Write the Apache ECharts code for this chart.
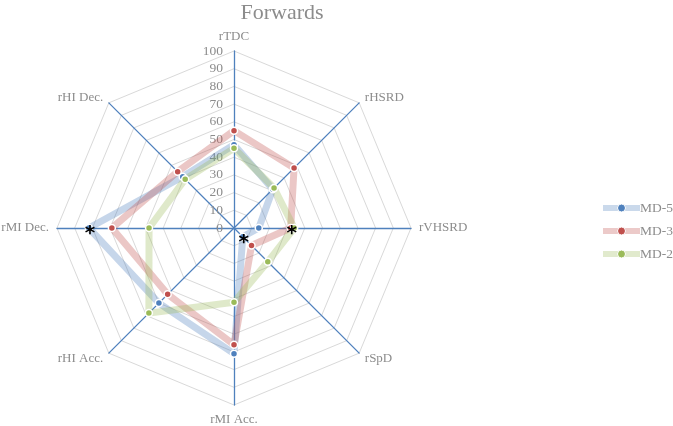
<!DOCTYPE html>
<html>
<head>
<meta charset="utf-8">
<script src="https://cdn.jsdelivr.net/npm/echarts@6/dist/echarts.min.js"></script>
<style>
html,body{margin:0;padding:0;background:#fff;}
#chart{width:673px;height:426px;}
</style>
</head>
<body>
<div id="chart"></div>
<script>
// Categories listed clockwise from the top, as in the picture
var categories = ['rTDC', 'rHSRD', 'rVHSRD', 'rSpD', 'rMI Acc.', 'rHI Acc.', 'rMI Dec.', 'rHI Dec.'];
var seriesNames = ['MD-5', 'MD-3', 'MD-2'];
var md5 = [47, 31, 14, 7, 71, 60, 82, 41];
var md3 = [55, 48, 32, 14, 66, 53, 69, 45];
var md2 = [45, 32, 34, 27, 42, 68, 48, 39];
var tickLabels = [0, 10, 20, 30, 40, 50, 60, 70, 80, 90, 100];
// significance stars: [series index, category]
var stars = [[0, 'rMI Dec.'], [0, 'rSpD'], [1, 'rVHSRD']];

var colors = ['#4F81BD', '#C0504D', '#9BBB59'];
var FONT = 'Liberation Serif';
var CX = 234, CY = 228, R = 177;

// ECharts places radar indicators counter-clockwise; reorder clockwise data
function ccw(arr) { return [arr[0]].concat(arr.slice(1).reverse()); }
var indCats = ccw(categories);
var allData = [md5, md3, md2];

var indicator = indCats.map(function (c, i) {
  var o = { name: c, min: tickLabels[0], max: tickLabels[tickLabels.length - 1] };
  if (i === 0) {
    o.axisLabel = { show: true, color: '#8c8c8c', fontFamily: FONT, fontSize: 13.5, margin: 11, showMinLabel: true, showMaxLabel: true };
  }
  return o;
});

var chart = echarts.init(document.getElementById('chart'));

var graphics = stars.map(function (s) {
  var vals = allData[s[0]];
  var ci = categories.indexOf(s[1]);
  var v = vals[ci];
  var ang = Math.PI / 2 - ci * 2 * Math.PI / categories.length;
  var x = CX + R * v / 100 * Math.cos(ang);
  var y = CY - R * v / 100 * Math.sin(ang);
  return {
    type: 'text', x: x + 1, y: y + 6, z: 100,
    style: { text: '*', fill: '#000', font: 'bold 20px DejaVu Sans', textAlign: 'center', textVerticalAlign: 'middle' }
  };
});

// legend-only line series (empty) so the legend shows line + dot icons
var legendSeries = seriesNames.map(function (n, i) {
  return {
    type: 'line', name: n, data: [], xAxisIndex: 0, yAxisIndex: 0,
    symbol: 'circle', symbolSize: 7,
    lineStyle: { width: 7, color: colors[i], opacity: 0.3 },
    itemStyle: { color: colors[i], borderColor: '#fff', borderWidth: 1 }
  };
});

chart.setOption({
  animation: false,
  backgroundColor: '#fff',
  color: colors,
  title: {
    text: 'Forwards', left: 277, top: -3, textAlign: 'center',
    textStyle: { fontFamily: FONT, fontSize: 22, fontWeight: 'normal', color: '#8c8c8c' }
  },
  grid: { show: false, left: -50, top: -50, width: 10, height: 10 },
  xAxis: { type: 'value', show: false },
  yAxis: { type: 'value', show: false },
  legend: {
    orient: 'vertical', left: 595, top: 196,
    itemWidth: 37, itemHeight: 10, itemGap: 9,
    data: seriesNames,
    lineStyle: { width: 6, opacity: 0.3 },
    itemStyle: { borderColor: '#fff', borderWidth: 1 },
    textStyle: { fontFamily: FONT, fontSize: 13.5, color: '#8c8c8c', padding: [0, 0, 0, -5] }
  },
  radar: {
    center: [CX, CY],
    radius: R,
    startAngle: 90,
    splitNumber: tickLabels.length - 1,
    shape: 'polygon',
    indicator: indicator,
    nameGap: 8,
    axisName: { color: '#8c8c8c', fontFamily: FONT, fontSize: 13 },
    axisLine: { lineStyle: { color: '#4F81BD', width: 1.3 } },
    splitLine: { lineStyle: { color: '#d9d9d9', width: 1 } },
    splitArea: { show: false },
    axisTick: { show: false },
    axisLabel: { show: false }
  },
  series: legendSeries.concat([{
    type: 'radar',
    symbol: 'circle',
    symbolSize: 7,
    data: allData.map(function (d, i) {
      return {
        name: seriesNames[i],
        value: ccw(d),
        lineStyle: { width: 7, color: colors[i], opacity: 0.32 },
        itemStyle: { color: colors[i], borderColor: '#fff', borderWidth: 1.5 }
      };
    })
  }]),
  graphic: graphics
});
</script>
</body>
</html>
